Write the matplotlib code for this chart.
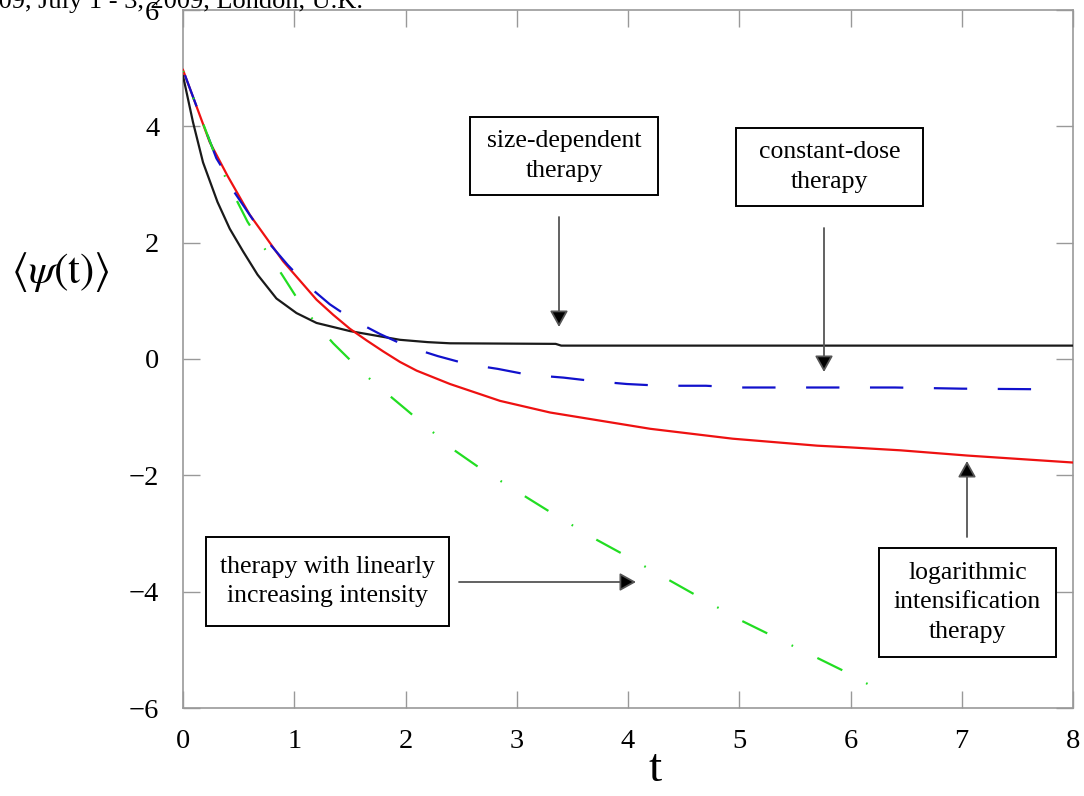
import matplotlib
matplotlib.use("Agg")
import matplotlib.pyplot as plt
from matplotlib.patches import Rectangle, FancyArrowPatch

# ---------------- data ----------------
t_size = [0, 0.09, 0.18, 0.31, 0.42, 0.54, 0.67, 0.84, 1.02, 1.2, 1.5, 1.8, 1.95,
          2.2, 2.4, 3.35, 3.4, 8.0]
psi_size = [4.87, 4.07, 3.38, 2.7, 2.24, 1.85, 1.45, 1.04, 0.79, 0.62, 0.48, 0.38, 0.33,
            0.29, 0.27, 0.26, 0.23, 0.23]

t_const = [0, 0.15, 0.3, 0.38, 0.45, 0.62, 0.77, 0.94, 1.11, 1.32, 1.53, 1.77, 2.01,
           2.29, 2.56, 2.83, 3.1, 3.42, 3.69, 3.99, 4.3, 4.7, 5.0, 5.6, 6.4, 7.0, 7.7]
psi_const = [4.97, 4.2, 3.45, 3.2, 2.9, 2.42, 2.0, 1.62, 1.28, 0.94, 0.67, 0.43, 0.22,
             0.05, -0.09, -0.17, -0.27, -0.32, -0.38, -0.43, -0.46, -0.46, -0.49, -0.49,
             -0.49, -0.51, -0.52]

t_log = [0, 0.12, 0.24, 0.4, 0.6, 0.9, 1.2, 1.35, 1.5, 1.65, 1.8, 1.95, 2.1, 2.4, 2.85,
         3.3, 3.75, 4.2, 4.94, 5.7, 6.0, 6.45, 7.05, 8.0]
psi_log = [4.97, 4.35, 3.73, 3.15, 2.48, 1.68, 1.02, 0.76, 0.52, 0.32, 0.13, -0.05,
           -0.2, -0.43, -0.72, -0.92, -1.06, -1.2, -1.37, -1.49, -1.52, -1.57, -1.66, -1.78]

t_lin = [0, 0.15, 0.3, 0.45, 0.58, 0.74, 0.89, 1.03, 1.19, 1.35, 1.53, 1.7, 2.0, 2.44,
         2.65, 3.09, 3.3, 3.72, 3.95, 5.0, 6.0, 6.36]
psi_lin = [4.95, 4.2, 3.45, 2.85, 2.36, 1.88, 1.45, 1.03, 0.62, 0.27, -0.07, -0.38,
           -0.86, -1.57, -1.85, -2.38, -2.63, -3.11, -3.35, -4.48, -5.42, -5.81]

x_ticks = [0, 1, 2, 3, 4, 5, 6, 7, 8]
y_ticks = [-6, -4, -2, 0, 2, 4, 6]

# ---------------- figure ----------------
plt.rcParams['font.family'] = ['Liberation Serif', 'DejaVu Serif']
plt.rcParams['mathtext.fontset'] = 'stix'
plt.rcParams['lines.scale_dashes'] = False

W, H = 1084, 796
fig = plt.figure(figsize=(W / 100, H / 100), dpi=100)
ax = fig.add_axes([183 / W, 1 - 708 / H, (1073 - 183) / W, (708 - 10) / H])

lw = 1.6
ax.plot(t_size, psi_size, color='#1a1a1a', lw=lw, zorder=3)
ax.plot(t_log, psi_log, color='#ee1111', lw=lw, zorder=4)
ax.plot(t_const, psi_const, color='#1111cc', lw=lw, zorder=5,
        linestyle=(42, (24, 22)))
ax.plot(t_lin, psi_lin, color='#22dd22', lw=lw, zorder=5,
        linestyle=(19, (20, 19.5, 1.2, 19.5)))

ax.set_xlim(0, 8)
ax.set_ylim(-6, 6)
ax.set_xticks(x_ticks)
ax.set_yticks(y_ticks)
ax.set_xticklabels([str(v) for v in x_ticks])
ax.set_yticklabels([str(v).replace('-', '\u2212') for v in y_ticks])
ax.tick_params(direction='in', length=12, width=1.0, color='#999999',
               top=True, right=True, labelsize=20.5)
ax.tick_params(axis='x', pad=15)
ax.tick_params(axis='y', pad=17)
for sp in ax.spines.values():
    sp.set_color('#999999')
    sp.set_linewidth(1.2)

# axis labels
fig.text(60 / W, 1 - 272 / H, r'$\langle\psi(\mathrm{t})\rangle$', fontsize=31,
         ha='center', va='center')
fig.text(655 / W, 1 - 770 / H, 't', fontsize=34, ha='center', va='center')

# clipped page header
fig.text(363 / W, 1 - 8 / H, 'WCE 2009, July 1 - 3, 2009, London, U.K.',
         fontsize=19, ha='right', va='baseline')

# annotation boxes (figure pixel positions, y measured from top)
def box(x0, y0, x1, y1, text):
    fig.patches.append(Rectangle((x0 / W, 1 - y1 / H), (x1 - x0) / W, (y1 - y0) / H,
                                 transform=fig.transFigure, fill=True, fc='white',
                                 ec='black', lw=1.4, zorder=10))
    fig.text((x0 + x1) / 2 / W, 1 - (y0 + y1) / 2 / H, text, fontsize=18.5,
             ha='center', va='center', linespacing=1.42, zorder=11)

def arrow(x0, y0, x1, y1):
    fig.add_artist(FancyArrowPatch(
        (x0 / W, 1 - y0 / H), (x1 / W, 1 - y1 / H), transform=fig.transFigure,
        arrowstyle='-|>,head_length=0.45,head_width=0.25', mutation_scale=22,
        lw=1.3, ec='#555555', fc='black', shrinkA=0, shrinkB=0, zorder=12))

box(470, 117, 658, 195, 'size-dependent\ntherapy')
box(736, 128, 923, 206, 'constant-dose\ntherapy')
box(206, 537, 449, 626, 'therapy with linearly\nincreasing intensity')
box(879, 548, 1056, 657, 'logarithmic\nintensification\ntherapy')

arrow(559, 217, 559, 327)
arrow(824, 228, 824, 372)
arrow(459, 582, 636, 582)
arrow(967, 537, 967, 461)

fig.savefig('out.png', dpi=100)
